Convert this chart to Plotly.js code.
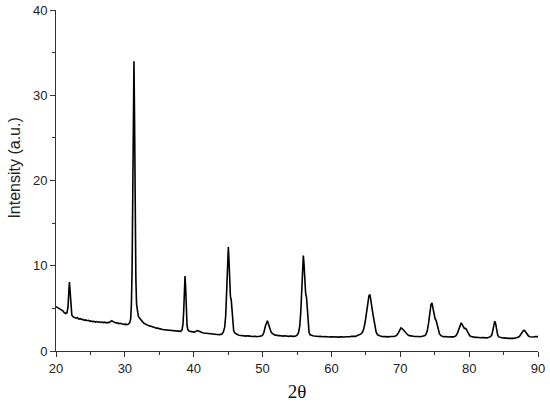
<!DOCTYPE html>
<html>
<head>
<meta charset="utf-8">
<script src="https://cdn.plot.ly/plotly-3.0.1.min.js"></script>
<style>html,body{margin:0;padding:0;background:#fff;}#chart{width:550px;height:402px;}</style>
</head>
<body>
<div id="chart"></div>
<script>
const twoTheta = [20.0,20.2,20.4,20.6,20.8,21.0,21.2,21.4,21.6,21.75,21.85,21.95,22.05,22.15,22.3,22.5,22.7,22.9,23.1,23.3,23.5,23.7,23.9,24.1,24.3,24.5,24.7,24.9,25.1,25.3,25.5,25.7,25.9,26.1,26.3,26.5,26.7,26.9,27.1,27.3,27.5,27.7,27.9,28.1,28.3,28.5,28.7,28.9,29.1,29.3,29.5,29.7,29.9,30.1,30.3,30.5,30.7,30.85,30.95,31.05,31.15,31.25,31.32,31.4,31.5,31.6,31.7,31.8,31.95,32.1,32.3,32.5,32.7,32.9,33.1,33.3,33.5,33.7,33.9,34.1,34.3,34.5,34.7,34.9,35.1,35.3,35.5,35.7,35.9,36.1,36.3,36.5,36.7,36.9,37.1,37.3,37.5,37.7,37.9,38.1,38.3,38.45,38.55,38.65,38.74,38.83,38.93,39.03,39.15,39.3,39.5,39.7,39.9,40.1,40.3,40.5,40.7,40.9,41.1,41.3,41.5,41.7,41.9,42.1,42.3,42.5,42.7,42.9,43.1,43.3,43.5,43.7,43.9,44.1,44.3,44.5,44.65,44.8,44.93,45.03,45.13,45.23,45.33,45.45,45.55,45.65,45.8,46.0,46.2,46.4,46.6,46.8,47.0,47.2,47.4,47.6,47.8,48.0,48.2,48.4,48.6,48.8,49.0,49.2,49.4,49.6,49.8,50.0,50.2,50.4,50.55,50.7,50.85,51.0,51.2,51.4,51.6,51.8,52.0,52.2,52.4,52.6,52.8,53.0,53.2,53.4,53.6,53.8,54.0,54.2,54.4,54.6,54.8,55.0,55.2,55.4,55.55,55.7,55.82,55.92,56.02,56.12,56.25,56.38,56.5,56.62,56.75,56.9,57.1,57.3,57.5,57.7,57.9,58.1,58.3,58.5,58.7,58.9,59.1,59.3,59.5,59.7,59.9,60.1,60.3,60.5,60.7,60.9,61.1,61.3,61.5,61.7,61.9,62.1,62.3,62.5,62.7,62.9,63.1,63.3,63.5,63.7,63.9,64.1,64.3,64.5,64.7,64.9,65.1,65.3,65.45,65.6,65.75,65.9,66.05,66.2,66.35,66.5,66.7,66.9,67.1,67.3,67.5,67.7,67.9,68.1,68.3,68.5,68.7,68.9,69.1,69.3,69.5,69.7,69.9,70.1,70.3,70.5,70.7,70.9,71.1,71.3,71.5,71.7,71.9,72.1,72.3,72.5,72.7,72.9,73.1,73.3,73.5,73.7,73.9,74.1,74.3,74.45,74.6,74.75,74.9,75.05,75.2,75.35,75.5,75.7,75.9,76.1,76.3,76.5,76.7,76.9,77.1,77.3,77.5,77.7,77.9,78.1,78.3,78.5,78.7,78.85,79.0,79.15,79.3,79.45,79.6,79.75,79.9,80.1,80.3,80.5,80.7,80.9,81.1,81.3,81.5,81.7,81.9,82.1,82.3,82.5,82.7,82.9,83.1,83.3,83.45,83.6,83.72,83.85,84.0,84.15,84.3,84.5,84.7,84.9,85.1,85.3,85.5,85.7,85.9,86.1,86.3,86.5,86.7,86.9,87.1,87.3,87.5,87.7,87.9,88.05,88.2,88.4,88.6,88.8,89.0,89.2,89.4,89.6,89.8,90.0];
const intensity = [5.2,5.1,5.0,4.9,4.8,4.7,4.5,4.4,4.5,5.2,6.8,8.1,7.0,5.2,4.2,4.0,3.95,3.85,3.9,3.75,3.8,3.7,3.72,3.6,3.65,3.55,3.6,3.5,3.52,3.45,3.48,3.4,3.45,3.38,3.42,3.35,3.4,3.33,3.38,3.3,3.35,3.32,3.45,3.55,3.45,3.32,3.28,3.3,3.22,3.25,3.18,3.2,3.12,3.15,3.1,3.15,3.3,3.8,5.5,9.5,17,27,34,28,16,8.5,5.5,4.6,4.1,3.9,3.65,3.5,3.3,3.2,3.1,3.05,2.95,2.92,2.85,2.8,2.78,2.7,2.68,2.62,2.6,2.58,2.52,2.5,2.48,2.45,2.42,2.4,2.38,2.36,2.33,2.32,2.28,2.3,2.26,2.3,2.45,3.2,4.8,7.2,8.8,7.4,4.6,3.0,2.5,2.35,2.3,2.25,2.28,2.22,2.3,2.4,2.35,2.25,2.2,2.15,2.12,2.1,2.05,2.08,2.0,2.02,1.98,1.95,1.98,1.92,1.95,1.9,1.95,2.0,2.2,2.8,4.2,7.5,11.0,12.2,10.5,7.8,6.4,6.0,5.0,3.4,2.4,2.1,1.95,1.9,1.85,1.82,1.8,1.78,1.8,1.75,1.78,1.72,1.75,1.7,1.73,1.7,1.72,1.68,1.7,1.72,1.75,1.85,2.2,2.9,3.4,3.55,3.2,2.7,2.3,2.05,1.92,1.85,1.88,1.8,1.82,1.78,1.8,1.75,1.78,1.74,1.76,1.72,1.75,1.72,1.74,1.72,1.76,1.85,2.1,2.9,4.6,7.8,10.4,11.2,10.2,8.2,6.8,6.3,5.0,3.2,2.2,1.9,1.8,1.78,1.75,1.72,1.74,1.7,1.72,1.68,1.7,1.67,1.7,1.66,1.68,1.65,1.68,1.66,1.64,1.67,1.65,1.66,1.63,1.66,1.64,1.67,1.65,1.68,1.66,1.7,1.68,1.72,1.7,1.74,1.72,1.78,1.85,1.9,2.0,2.2,2.6,3.4,4.6,5.8,6.5,6.6,6.0,5.0,4.2,3.6,2.8,2.2,1.9,1.8,1.75,1.72,1.7,1.72,1.68,1.7,1.66,1.7,1.68,1.72,1.7,1.75,1.85,2.1,2.45,2.7,2.6,2.4,2.2,2.0,1.88,1.8,1.75,1.72,1.74,1.7,1.72,1.68,1.7,1.67,1.7,1.72,1.78,1.9,2.3,3.2,4.6,5.4,5.65,5.0,4.1,3.8,3.6,3.0,2.4,2.0,1.8,1.72,1.68,1.7,1.66,1.68,1.65,1.67,1.64,1.66,1.7,1.8,2.1,2.6,3.1,3.3,3.1,2.8,2.65,2.65,2.55,2.3,2.0,1.78,1.7,1.65,1.62,1.6,1.62,1.58,1.6,1.56,1.58,1.55,1.57,1.54,1.56,1.6,1.68,1.9,2.5,3.2,3.5,3.2,2.4,1.85,1.65,1.58,1.55,1.52,1.54,1.5,1.52,1.48,1.5,1.47,1.5,1.48,1.52,1.55,1.6,1.72,1.95,2.25,2.42,2.4,2.2,1.95,1.78,1.68,1.65,1.68,1.64,1.7,1.66,1.72];
const xTicks = [20,30,40,50,60,70,80,90];
const yTicks = [0,10,20,30,40];
const xTitle = '2θ';
const yTitle = 'Intensity (a.u.)';

const trace = {
  x: twoTheta, y: intensity, type: 'scatter', mode: 'lines',
  line: {color: '#000', width: 1.6}, hoverinfo: 'none'
};
const axisCommon = {
  showgrid: false, zeroline: false, showline: true, linecolor: '#333', linewidth: 1,
  ticks: 'outside', ticklen: 5, tickwidth: 1, tickcolor: '#333',
  tickfont: {family: 'Liberation Sans, Arial, sans-serif', size: 13, color: '#222'},
  minor: {ticks: 'outside', ticklen: 3, tickwidth: 1, tickcolor: '#333', dtick: 5}
};
const layout = {
  width: 550, height: 402,
  margin: {l: 56, r: 12, t: 10, b: 51},
  paper_bgcolor: '#fff', plot_bgcolor: '#fff',
  showlegend: false,
  xaxis: Object.assign({}, axisCommon, {
    range: [20, 90], tickvals: xTicks, ticktext: xTicks.map(String),
    title: {text: xTitle, font: {family: 'Liberation Serif, Times New Roman, serif', size: 19, color: '#111'}, standoff: 11}
  }),
  yaxis: Object.assign({}, axisCommon, {
    range: [0, 40], tickvals: yTicks, ticktext: yTicks.map(String)
  }),
  annotations: [{
    text: yTitle, xref: 'paper', yref: 'paper', x: -0.085, y: 0.535,
    xanchor: 'center', yanchor: 'middle', textangle: -90, showarrow: false,
    font: {family: 'Liberation Sans, Arial, sans-serif', size: 16, color: '#222'}
  }]
};
Plotly.newPlot('chart', [trace], layout, {staticPlot: true, displayModeBar: false});
</script>
</body>
</html>
